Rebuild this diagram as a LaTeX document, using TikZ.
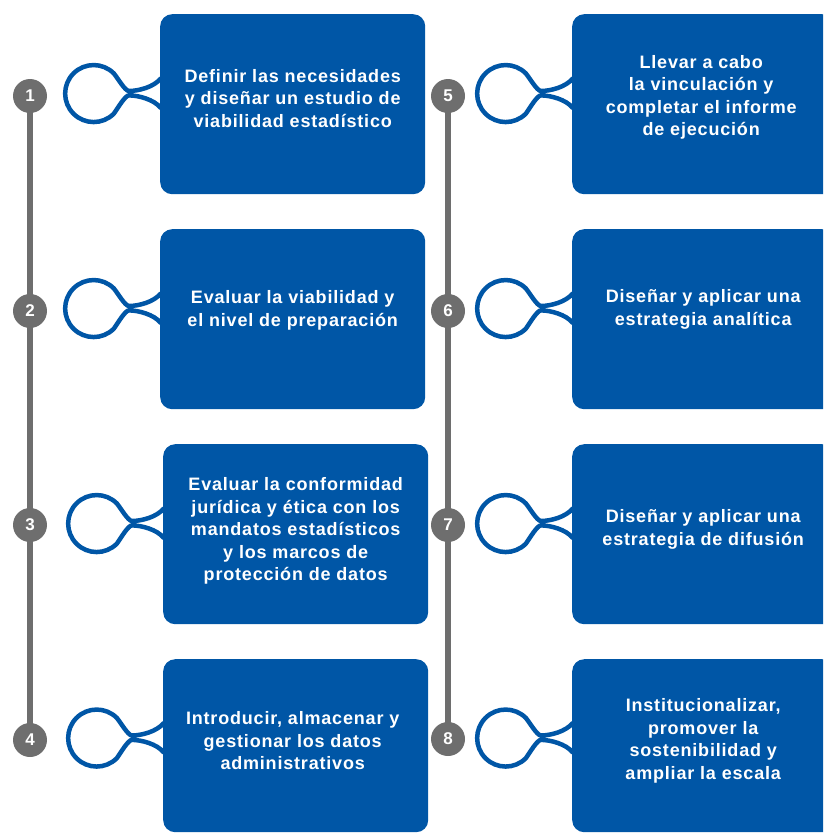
\documentclass[tikz,border=0pt]{standalone}
\usepackage{fontspec}
\setmainfont{Liberation Sans}
\usetikzlibrary{backgrounds}
\definecolor{azul}{RGB}{0,86,166}
\definecolor{gris}{RGB}{110,110,110}

\begin{document}
\begin{tikzpicture}[x=1pt,y=-1pt,
    caja/.style={fill=azul,rounded corners=12pt,minimum width=265pt,minimum height=180pt,inner sep=0pt,anchor=north west},
    texto/.style={text=white,align=center,font=\bfseries\fontsize{18}{22.5}\selectfont\addfontfeature{LetterSpace=4.5}},
    num/.style={circle,fill=gris,minimum size=34pt,inner sep=0pt,text=white,font=\bfseries\fontsize{17}{17}\selectfont},
    riel/.style={gris,line width=6pt},
    lazo/.pic={
        \draw[y=1pt,azul,line width=4.5pt] (1,15) .. controls (-6,6) and (-22,2.2) .. (-31,2.2)
            .. controls (-35,2.2) and (-42.5,15.5) .. (-46.2,19.8)
            arc[start angle=45,end angle=315,radius=28.5]
            .. controls (-42.5,-15.5) and (-35,-2.2) .. (-31,-2.2)
            .. controls (-22,-2.2) and (-6,-6) .. (1,-15);
    }]
    \useasboundingbox (0,0) rectangle (823,833);
    \clip (0,0) rectangle (823,833);

    \node[caja] (c1) at (160,14) {};
    \node[caja] (c2) at (160,229) {};
    \node[caja] (c3) at (163,444) {};
    \node[caja,minimum height=173pt] (c4) at (163,659) {};
    \node[caja,minimum width=262pt] (c5) at (572,14) {};
    \node[caja,minimum width=262pt] (c6) at (572,229) {};
    \node[caja,minimum width=262pt] (c7) at (572,444) {};
    \node[caja,minimum width=262pt,minimum height=173pt] (c8) at (572,659) {};

    \node[texto] (t1) at ([yshift=6pt]c1.center) {Definir las necesidades\\y diseñar un estudio de\\viabilidad estadístico};
    \node[texto] (t2) at ([yshift=9pt]c2.center) {Evaluar la viabilidad y\\el nivel de preparación};
    \node[texto] (t3) at ([yshift=3pt]c3.center) {Evaluar la conformidad\\jurídica y ética con los\\mandatos estadísticos\\y los marcos de\\protección de datos};
    \node[texto] (t4) at ([xshift=-3pt,yshift=5pt]c4.center) {Introducir, almacenar y\\gestionar los datos\\administrativos};
    \node[texto] (t5) at ([xshift=-2pt,yshift=7pt]c5.center) {Llevar a cabo\\la vinculación y\\completar el informe\\de ejecución};
    \node[texto] (t6) at ([yshift=10pt]c6.center) {Diseñar y aplicar una\\estrategia analítica};
    \node[texto] (t7) at ([yshift=5pt]c7.center) {Diseñar y aplicar una\\estrategia de difusión};
    \node[texto] (t8) at ([yshift=5pt]c8.center) {Institucionalizar,\\promover la\\sostenibilidad y\\ampliar la escala};

    \pic at ([yshift=11pt]c1.west) {lazo};
    \pic at ([yshift=11pt]c2.west) {lazo};
    \pic at ([yshift=11pt]c3.west) {lazo};
    \pic at ([yshift=8pt]c4.west) {lazo};
    \pic at ([yshift=11pt]c5.west) {lazo};
    \pic at ([yshift=11pt]c6.west) {lazo};
    \pic at ([yshift=11pt]c7.west) {lazo};
    \pic at ([yshift=8pt]c8.west) {lazo};

    \node[num] (n1) at (30,96) {1};
    \node[num] (n2) at (30,311) {2};
    \node[num] (n3) at (30,525) {3};
    \node[num] (n4) at (30,740) {4};
    \node[num] (n5) at (448,96) {5};
    \node[num] (n6) at (448,311) {6};
    \node[num] (n7) at (448,525) {7};
    \node[num] (n8) at (448,739) {8};

    \begin{scope}[on background layer]
        \draw[riel] (n1.center) -- (n4.center);
        \draw[riel] (n5.center) -- (n8.center);
    \end{scope}
\end{tikzpicture}
\end{document}
